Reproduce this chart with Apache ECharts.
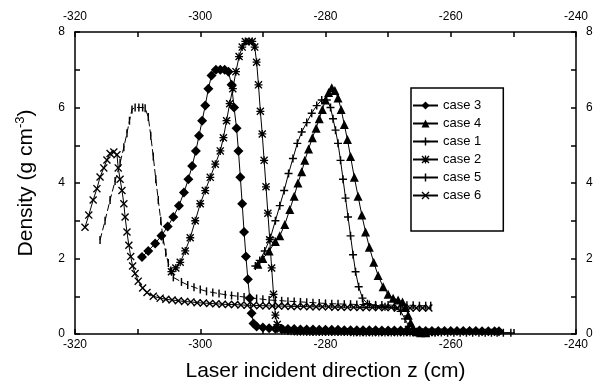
<!DOCTYPE html>
<html>
<head>
<meta charset="utf-8">
<script src="https://cdn.jsdelivr.net/npm/echarts@6/dist/echarts.min.js"></script>
<style>
  html, body { margin: 0; padding: 0; background: #fff; }
  #chart { width: 608px; height: 390px; }
</style>
</head>
<body>
<div id="chart"></div>
<script>
// values, [z, density]
const case3 = [[-309.3,2.04],[-308.3,2.2],[-307.2,2.4],[-306.2,2.6],[-305.2,2.85],[-304.3,3.1],[-303.4,3.4],[-302.6,3.75],[-301.9,4.1],[-301.3,4.45],[-300.7,4.85],[-300.2,5.25],[-299.7,5.65],[-299.2,6.05],[-298.7,6.5],[-298.2,6.85],[-297.5,7.0],[-296.8,7.0],[-296.1,7.0],[-295.5,6.95],[-295.0,6.6],[-294.6,6.0],[-294.2,5.45],[-293.9,4.85],[-293.6,4.15],[-293.3,3.45],[-293.0,2.7],[-292.7,2.05],[-292.4,1.45],[-292.1,0.95],[-291.8,0.55],[-291.5,0.28],[-291,0.2],[-290,0.17],[-289,0.15],[-288,0.14],[-287,0.14],[-286,0.13],[-285,0.13],[-284,0.12],[-283,0.12],[-282,0.12],[-281,0.11],[-280,0.11],[-279,0.11],[-278,0.11],[-277,0.1],[-276,0.1],[-275,0.1],[-274,0.1],[-273,0.1],[-272,0.1],[-271,0.09],[-270,0.09],[-269,0.09],[-268,0.09],[-267,0.09],[-266,0.09],[-265,0.09],[-264,0.08],[-263,0.08],[-262,0.08],[-261,0.08],[-260,0.08],[-259,0.08],[-258,0.08],[-257,0.08],[-256,0.08],[-255,0.07],[-254,0.07],[-253,0.07],[-252.3,0.07]];
const case4 = [[-290.8,1.85],[-290,2.0],[-289,2.2],[-288,2.45],[-287.3,2.6],[-286.5,2.9],[-285.7,3.3],[-285,3.65],[-284.4,4.0],[-283.8,4.3],[-283.3,4.6],[-282.7,4.9],[-282.1,5.2],[-281.5,5.45],[-281,5.7],[-280.5,5.95],[-280,6.2],[-279.5,6.4],[-279,6.52],[-278.5,6.45],[-278,6.25],[-277.5,5.95],[-277,5.55],[-276.5,5.15],[-276,4.7],[-275.4,4.15],[-274.8,3.65],[-274.2,3.15],[-273.6,2.7],[-273,2.3],[-272.3,1.9],[-271.6,1.55],[-270.8,1.25],[-270,1.05],[-269.2,0.95],[-268.4,0.9],[-267.7,0.85],[-267.2,0.7],[-266.8,0.5],[-266.4,0.3],[-266,0.15],[-265.5,0.06],[-264.8,0.03],[-264,0.03]];
const case1 = [[-291.2,1.8],[-290.5,1.95],[-289.7,2.2],[-288.8,2.55],[-288,3.0],[-287.3,3.4],[-286.6,3.8],[-285.9,4.25],[-285.2,4.65],[-284.5,5.05],[-283.8,5.35],[-283,5.6],[-282.2,5.85],[-281.4,6.05],[-280.6,6.2],[-279.8,6.2],[-279.2,6.0],[-278.8,5.7],[-278.4,5.4],[-278,5.05],[-277.6,4.6],[-277.2,4.1],[-276.8,3.6],[-276.4,3.1],[-276,2.6],[-275.6,2.1],[-275.2,1.65],[-274.7,1.25],[-274.1,0.95],[-273.3,0.8],[-272,0.75],[-270.5,0.72],[-269,0.7],[-268,0.6],[-267.3,0.4],[-266.7,0.2],[-266.2,0.08],[-265.5,0.05],[-264.5,0.04],[-263.5,0.04],[-262.5,0.04],[-261.5,0.04],[-260.5,0.03],[-259.5,0.03],[-258.5,0.03],[-257.5,0.03],[-256.5,0.03],[-255.5,0.03],[-254.5,0.03],[-253.5,0.03],[-252.6,0.03],[-251.6,0.03],[-250.4,0.03]];
const case2 = [[-304.6,1.65],[-303.9,1.75],[-303.2,1.9],[-302.4,2.2],[-301.6,2.55],[-300.8,3.0],[-300,3.45],[-299.2,3.8],[-298.4,4.15],[-297.6,4.5],[-296.8,4.85],[-296.3,5.2],[-295.8,5.65],[-295.3,6.1],[-294.8,6.5],[-294.3,6.95],[-293.8,7.35],[-293.3,7.6],[-292.8,7.75],[-292.2,7.75],[-291.7,7.75],[-291.3,7.6],[-291,7.2],[-290.7,6.6],[-290.4,5.9],[-290.1,5.3],[-289.8,4.6],[-289.5,3.9],[-289.2,3.2],[-288.9,2.5],[-288.6,1.75],[-288.3,1.05],[-288,0.5],[-287.7,0.25],[-287.2,0.13],[-286.5,0.09],[-285.5,0.07],[-284.5,0.06],[-283.5,0.06],[-282.5,0.05],[-281.5,0.05],[-280.5,0.05],[-279.5,0.05],[-278.5,0.05],[-277.5,0.05],[-276.5,0.05],[-275.5,0.04],[-274.5,0.04],[-273.5,0.04],[-272.5,0.04],[-271.5,0.04],[-270.5,0.04],[-269.5,0.04],[-268.5,0.04],[-267.5,0.04],[-266.5,0.04],[-265.5,0.04],[-264.5,0.04],[-263.5,0.04],[-262.5,0.04]];
const case5 = [[-316,2.49],[-315.2,3.0],[-314.4,3.55],[-313.6,4.05],[-312.8,4.53],[-312.2,4.95],[-311.7,5.32],[-311.3,5.65],[-310.9,5.95],[-310.4,6.0],[-309.8,6.0],[-309.2,6.0],[-308.8,5.98],[-308.3,5.75],[-307.9,5.25],[-307.5,4.7],[-307.1,4.1],[-306.7,3.55],[-306.3,3.0],[-305.9,2.5],[-305.5,2.15],[-305.1,1.88],[-304.7,1.68],[-304.3,1.5],[-303,1.38],[-302,1.3],[-301,1.24],[-300,1.18],[-299,1.13],[-298,1.1],[-297,1.07],[-296,1.04],[-295,1.02],[-294,1.0],[-293,0.98],[-292,0.96],[-291,0.94],[-290,0.92],[-289,0.9],[-288,0.89],[-287,0.88],[-286,0.87],[-285,0.86],[-284,0.85],[-283,0.84],[-282,0.83],[-281,0.82],[-280,0.81],[-279,0.8],[-278,0.8],[-277,0.79],[-276,0.79],[-275,0.78],[-274,0.78],[-273,0.78],[-272,0.77],[-271,0.77],[-270,0.77],[-269,0.76],[-268,0.76],[-267,0.76],[-266,0.76],[-265,0.75],[-264,0.75],[-263.2,0.75]];
const case6 = [[-318.4,2.83],[-317.8,3.15],[-317.1,3.55],[-316.5,3.85],[-316,4.16],[-315.4,4.4],[-314.9,4.61],[-314.4,4.78],[-313.8,4.82],[-313.3,4.75],[-313.1,4.4],[-312.8,4.1],[-312.5,3.8],[-312.2,3.45],[-312,3.1],[-311.7,2.7],[-311.4,2.35],[-311.1,2.05],[-310.8,1.8],[-310.4,1.6],[-309.9,1.4],[-309.2,1.22],[-308.5,1.1],[-307.5,1.0],[-306.4,0.95],[-305.5,0.92],[-304.5,0.9],[-303.5,0.88],[-302.5,0.86],[-301.5,0.85],[-300.5,0.83],[-299.5,0.82],[-298.5,0.81],[-297.5,0.8],[-296.5,0.79],[-295.5,0.78],[-294.5,0.78],[-293.5,0.77],[-292.5,0.76],[-291.5,0.76],[-290.5,0.75],[-289.5,0.75],[-288.5,0.74],[-287.5,0.74],[-286.5,0.74],[-285.5,0.73],[-284.5,0.73],[-283.5,0.73],[-282.5,0.72],[-281.5,0.72],[-280.5,0.72],[-279.5,0.72],[-278.5,0.71],[-277.5,0.71],[-276.5,0.71],[-275.5,0.71],[-274.5,0.7],[-273.5,0.7],[-272.5,0.7],[-271.5,0.7],[-270.5,0.7],[-269.5,0.7],[-268.5,0.69],[-267.5,0.69],[-266.5,0.69],[-265.5,0.69],[-264.5,0.69],[-263.5,0.69]];

const legendOrder = ["case 3", "case 4", "case 1", "case 2", "case 5", "case 6"];

const PLUS = "path://M4.1,0H5.9V4.1H10V5.9H5.9V10H4.1V5.9H0V4.1H4.1Z";
const CROSS = "path://M0,1.2L1.2,0L5,3.8L8.8,0L10,1.2L6.2,5L10,8.8L8.8,10L5,6.2L1.2,10L0,8.8L3.8,5Z";
const STAR = "path://M0,1.2L1.2,0L5,3.8L8.8,0L10,1.2L6.2,5L10,8.8L8.8,10L5,6.2L1.2,10L0,8.8L3.8,5Z M4.2,0H5.8V10H4.2Z M0,4.2H10V5.8H0Z";
// thin vertical bar; the two empty points keep its box square
const BAR = "path://M4.1,0H5.9V10H4.1Z M0,0L0,0 M10,10L10,10";

const font = "Liberation Sans, Arial, Helvetica, sans-serif";

function mkSeries(name, data, symbol, size, dash) {
  return {
    name: name,
    type: "line",
    data: data,
    symbol: symbol,
    symbolSize: size,
    showAllSymbol: true,
    animation: false,
    lineStyle: { color: "#000", width: 1, type: dash || "solid" },
    itemStyle: { color: "#000", borderWidth: 0 },
    z: 3,
  };
}

function xAx(pos) {
  return {
    type: "value",
    position: pos,
    min: -320,
    max: -240,
    interval: 10,
    name: pos === "bottom" ? "Laser incident direction z (cm)" : "",
    nameLocation: "middle",
    nameGap: 27,
    nameTextStyle: { color: "#000", fontSize: 21, fontFamily: font },
    axisLine: { show: true, onZero: false, lineStyle: { color: "#000", width: 1.5 } },
    axisTick: { show: true, inside: true, length: 5, lineStyle: { color: "#000", width: 1.5 } },
    axisLabel: {
      color: "#000",
      fontSize: 12,
      fontFamily: font,
      margin: pos === "bottom" ? 5 : 9,
      formatter: function (v) { return v % 20 === 0 ? String(v) : ""; },
    },
    splitLine: { show: false },
  };
}

function yAx(pos) {
  return {
    type: "value",
    position: pos,
    min: 0,
    max: 8,
    interval: 1,
    name: pos === "left" ? "Density (g cm{sup|-3})" : "",
    nameLocation: "middle",
    nameGap: 36,
    nameTextStyle: {
      color: "#000",
      fontSize: 21,
      fontFamily: font,
      rich: { sup: { fontSize: 13, fontFamily: font, color: "#000", verticalAlign: "top", padding: [0, 0, 12, 0] } },
    },
    axisLine: { show: true, onZero: false, lineStyle: { color: "#000", width: 1.5 } },
    axisTick: { show: true, inside: true, length: 5, lineStyle: { color: "#000", width: 1.5 } },
    axisLabel: {
      color: "#000",
      fontSize: 12,
      fontFamily: font,
      margin: 10,
      formatter: function (v) { return v % 2 === 0 ? String(v) : ""; },
    },
    splitLine: { show: false },
  };
}

const chart = echarts.init(document.getElementById("chart"), null, { renderer: "canvas" });
chart.setOption({
  animation: false,
  backgroundColor: "#fff",
  grid: { left: 75, right: 32, top: 32, bottom: 56, containLabel: false },
  legend: {
    orient: "vertical",
    left: 411,
    top: 88,
    padding: [11, 22, 29, 1],
    itemWidth: 25,
    itemHeight: 10,
    itemGap: 5,
    borderColor: "#000",
    borderWidth: 1.5,
    borderRadius: 0,
    // the legend samples are all drawn with a solid line
    data: legendOrder.map(function (n) {
      return { name: n, lineStyle: { type: "solid" } };
    }),
    textStyle: { color: "#000", fontSize: 13, fontFamily: font },
  },
  xAxis: [xAx("bottom"), xAx("top")],
  yAxis: [yAx("left"), yAx("right")],
  series: [
    mkSeries("case 3", case3, "diamond", 10),
    mkSeries("case 4", case4, "triangle", 9),
    mkSeries("case 1", case1, PLUS, 8),
    mkSeries("case 2", case2, STAR, 8),
    mkSeries("case 5", case5, BAR, 8, [7, 3]),
    mkSeries("case 6", case6, CROSS, 8),
  ],
});
</script>
</body>
</html>
